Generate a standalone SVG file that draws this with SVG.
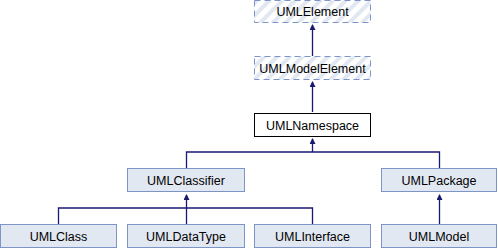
<svg xmlns="http://www.w3.org/2000/svg" width="498" height="248" viewBox="0 0 498 248">
<defs>
<pattern id="hatch" patternUnits="userSpaceOnUse" width="9" height="9" patternTransform="rotate(45)">
<rect width="9" height="9" fill="#ffffff"/>
<rect width="4" height="9" fill="#e2e8f2"/>
</pattern>
<marker id="ah" markerWidth="6" markerHeight="6" refX="5" refY="3" orient="auto" markerUnits="userSpaceOnUse">
<path d="M0,0 L6,3 L0,6 Z" fill="#191970"/>
</marker>
<style>
.n rect{fill:#e2e8f2;stroke:#7c95c6;stroke-width:1}
.d rect{fill:url(#hatch);stroke:#7c95c6;stroke-width:1;stroke-dasharray:6,4}
.w rect{fill:#ffffff;stroke:#000000;stroke-width:1}
text{font-family:"Liberation Sans",Arial,sans-serif;font-size:12.5px;fill:#000;text-anchor:middle}
.e path{fill:none;stroke:#191970;stroke-width:1.3}
</style>
</defs>
<g class="e" id="connectors">
<path d="M312.5,56 V25" marker-end="url(#ah)"/>
<path d="M312.5,112 V82" marker-end="url(#ah)"/>
<path d="M186.5,168 V152 H439.5 V168"/>
<path d="M312.5,152 V139" marker-end="url(#ah)"/>
<path d="M58.5,224 V208 H312.5 V224"/>
<path d="M186.5,224 V195" marker-end="url(#ah)"/>
<path d="M439.5,224 V195" marker-end="url(#ah)"/>
</g>
<g id="UMLElement" class="d"><rect x="254.5" y="0.5" width="116" height="22"/><text x="312.5" y="16">UMLElement</text></g>
<g id="UMLModelElement" class="d"><rect x="254.5" y="56.5" width="116" height="23"/><text x="312.5" y="72.5">UMLModelElement</text></g>
<g id="UMLNamespace" class="w"><rect x="254.5" y="113.5" width="116" height="23"/><text x="312.5" y="129.5">UMLNamespace</text></g>
<g id="UMLClassifier" class="n"><rect x="127.5" y="168.5" width="117" height="23"/><text x="186" y="184.5">UMLClassifier</text></g>
<g id="UMLPackage" class="n"><rect x="381.5" y="168.5" width="115" height="23"/><text x="439" y="184.5">UMLPackage</text></g>
<g id="UMLClass" class="n"><rect x="0.5" y="224.5" width="116" height="23"/><text x="58.5" y="240.5">UMLClass</text></g>
<g id="UMLDataType" class="n"><rect x="127.5" y="224.5" width="117" height="23"/><text x="186" y="240.5">UMLDataType</text></g>
<g id="UMLInterface" class="n"><rect x="254.5" y="224.5" width="116" height="23"/><text x="312.5" y="240.5">UMLInterface</text></g>
<g id="UMLModel" class="n"><rect x="381.5" y="224.5" width="115" height="23"/><text x="439" y="240.5">UMLModel</text></g>
</svg>
